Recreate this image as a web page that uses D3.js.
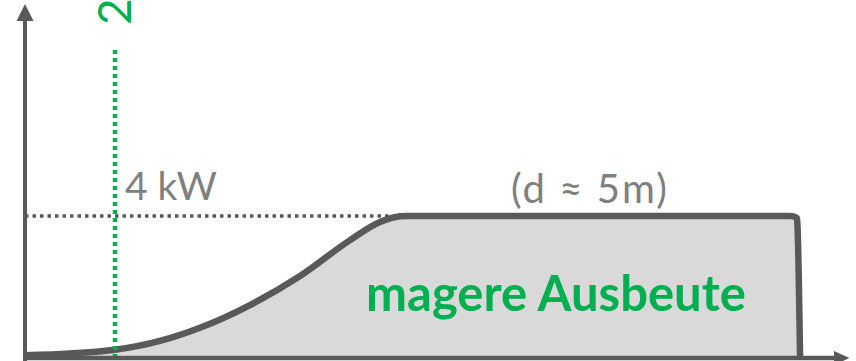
<!DOCTYPE html>
<html><head><meta charset="utf-8">
<script src="https://cdn.jsdelivr.net/npm/d3@7"></script>
<style>html,body{margin:0;padding:0;background:#fff;overflow:hidden}</style>
</head><body>
<script>
// wind speed (m/s) and power (kW) of the power curve
const windSpeed = [0, 1.25, 2.5, 3.75, 4.86, 6.25, 7.64, 9.03, 9.86, 10.42, 10.61, 21.25, 21.44, 21.53];
const powerKW   = [0.08, 0.13, 0.23, 0.48, 0.85, 1.49, 2.31, 3.32, 3.83, 3.99, 4.0, 4.0, 3.95, 0];
const ratedPower = 4;       // kW
const cutIn = 2.5;          // m/s
const ratedLabel = "4 kW";
const cutInLabel = "2,5 m/s";
const distLabel = "(d ≈ 5m)";
const yieldLabel = "magere Ausbeute";

const W = 856, H = 361;
const svg = d3.select("body").append("svg").attr("width", W).attr("height", H);

const x = d3.scaleLinear().domain([0, 22.9]).range([25, 849.4]);
const y = d3.scaleLinear().domain([0, 10]).range([358, 3]);

const data = windSpeed.map((w, i) => ({w, p: powerKW[i]}));
const grey = "#595959", green = "#00b050", textGrey = "#7f7f7f";

// filled area
svg.append("path").datum(data)
  .attr("d", d3.area().x(d => x(d.w)).y0(y(0)).y1(d => y(d.p)).curve(d3.curveMonotoneX))
  .attr("fill", "#d9d9d9");

// horizontal dotted line at rated power
svg.append("line")
  .attr("x1", x(0)).attr("x2", x(10.2)).attr("y1", y(ratedPower)).attr("y2", y(ratedPower))
  .attr("stroke", grey).attr("stroke-width", 3.5).attr("stroke-dasharray", "3.5 4");

// outline
svg.append("path").datum(data)
  .attr("d", d3.line().x(d => x(d.w)).y(d => y(d.p)).curve(d3.curveMonotoneX))
  .attr("fill", "none").attr("stroke", grey).attr("stroke-width", 6.5)
  .attr("stroke-linejoin", "round");

// green cut-in line
svg.append("line")
  .attr("x1", x(cutIn)).attr("x2", x(cutIn)).attr("y1", 50).attr("y2", y(0))
  .attr("stroke", green).attr("stroke-width", 4.5).attr("stroke-dasharray", "4 4");

// axes
svg.append("line").attr("x1", x(0)).attr("x2", x(0)).attr("y1", H).attr("y2", 18)
  .attr("stroke", grey).attr("stroke-width", 4);
svg.append("path").attr("d", `M${x(0)},4 L${x(0)-8.5},21 L${x(0)+8.5},21 Z`).attr("fill", grey);
svg.append("line").attr("x1", 23).attr("x2", 836).attr("y1", y(0)).attr("y2", y(0))
  .attr("stroke", grey).attr("stroke-width", 4.5);
svg.append("path").attr("d", `M849.5,${y(0)} L834,${y(0)-7} L834,${y(0)+7} Z`).attr("fill", grey);

// texts
const font = "Lato, 'Carlito', 'Open Sans', sans-serif";
svg.append("text").attr("x", 125).attr("y", 200).text(ratedLabel)
  .attr("font-family", font).attr("font-size", 39).attr("fill", textGrey);
svg.append("text").attr("x", 511).attr("y", 203).text(distLabel)
  .attr("font-family", font).attr("font-size", 40).attr("fill", textGrey)
  .attr("textLength", 156).attr("lengthAdjust", "spacing");
svg.append("text").attr("x", 366).attr("y", 311).text(yieldLabel)
  .attr("font-family", font).attr("font-size", 49).attr("font-weight", "bold").attr("fill", green);
svg.append("text").attr("transform", "translate(131,25) rotate(-90)").text(cutInLabel)
  .attr("font-family", font).attr("font-size", 46).attr("fill", green);
</script>
</body></html>
